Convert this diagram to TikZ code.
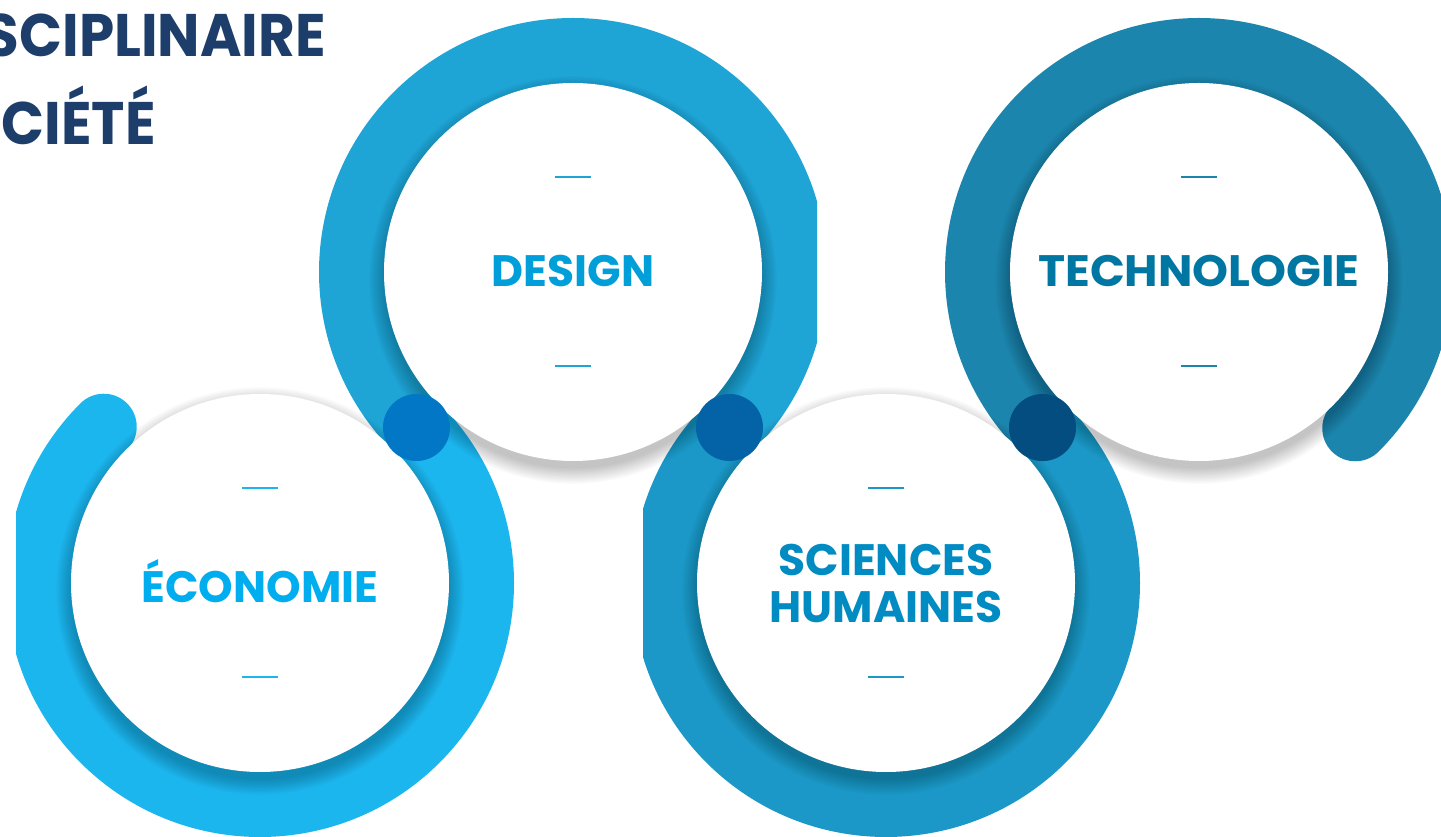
\documentclass[tikz,border=0pt]{standalone}
\usepackage{fontspec}
\newfontfamily\labelfont{Poppins}
\usetikzlibrary{calc}

\definecolor{ecoRing}{HTML}{1CB6EE}
\definecolor{desRing}{HTML}{1EA5D6}
\definecolor{sciRing}{HTML}{1B98C7}
\definecolor{tecRing}{HTML}{1C85AD}
\definecolor{ecoText}{HTML}{00ADEE}
\definecolor{desText}{HTML}{009FDA}
\definecolor{sciText}{HTML}{008CC3}
\definecolor{tecText}{HTML}{0077A2}
\definecolor{jointA}{HTML}{0277C6}
\definecolor{jointB}{HTML}{0363A6}
\definecolor{jointC}{HTML}{044D80}
\definecolor{titleBlue}{HTML}{1D3D6B}

\begin{document}
\begin{tikzpicture}[x=1pt,y=1pt,
    disc/.style={circle,fill=white,minimum size=378pt,inner sep=0pt,align=center,
      font=\labelfont\bfseries\fontsize{44}{47}\selectfont},
    ring/.style={line width=66pt},
    joint/.style={circle,minimum size=67pt,inner sep=0pt},
    tick/.style={line width=2pt},
    title/.style={inner sep=0pt,text=titleBlue,
      font=\labelfont\bfseries\fontsize{60}{60}\selectfont}]
  \useasboundingbox (0,0) rectangle (1441,836);
  \fill[white] (0,0) rectangle (1441,836);

  % centres of the four circles
  \coordinate (eco) at (260,253);
  \coordinate (des) at (573,564);
  \coordinate (sci) at (886,253);
  \coordinate (tec) at (1199,564);

  % rings
  \begin{scope}
    \clip (16,0) rectangle (1441,836);
    \draw[ring,ecoRing,line cap=round] ($(eco)+(135:221)$) arc[start angle=135,end angle=405,radius=221pt];
  \end{scope}
  \begin{scope}
    \clip (0,0) rectangle (817,836);
    \draw[ring,desRing] ($(des)+(225:221)$) arc[start angle=225,end angle=-45,radius=221pt];
  \end{scope}
  \begin{scope}
    \clip (643,0) rectangle (1441,836);
    \draw[ring,sciRing] ($(sci)+(135:221)$) arc[start angle=135,end angle=405,radius=221pt];
  \end{scope}
  \draw[ring,tecRing,line cap=round] ($(tec)+(225:221)$) arc[start angle=225,end angle=-45,radius=221pt];

  % soft shadows under the discs
  \foreach \c in {eco,des,sci,tec}
    \foreach \k in {1,...,12}
      \fill[black,opacity=0.02] ([yshift=-8pt]\c) circle[radius={187pt+\k*1.4pt}];

  % discs
  \node[disc,text=ecoText] (eco disc) at (eco) {\raisebox{3pt}{ÉCONOMIE}};
  \node[disc,text=desText] (des disc) at (des) {\raisebox{2pt}{DESIGN}};
  \node[disc,text=sciText] (sci disc) at (sci) {SCIENCES\\HUMAINES};
  \node[disc,text=tecText] (tec disc) at (tec) {\raisebox{2pt}{\scalebox{1.04}[1]{TECHNOLOGIE}}};

  % ticks above and below the labels
  \foreach \c/\col in {eco/ecoRing,des/desRing,sci/sciRing,tec/tecRing}{
    \draw[tick,\col] ([shift={(-18,95)}]\c) -- ++(36,0);
    \draw[tick,\col] ([shift={(-18,-94)}]\c) -- ++(36,0);
  }

  % joints between the rings
  \node[joint,fill=jointA] (j1) at ($(eco)!0.5!(des)$) {};
  \node[joint,fill=jointB] (j2) at ($(des)!0.5!(sci)$) {};
  \node[joint,fill=jointC] (j3) at ($(sci)!0.5!(tec)$) {};

  % title, cut by the page edge
  \node[title,anchor=base east] (line1) at (326,779) {\scalebox{0.94}[1]{SCIPLINAIRE}};
  \node[title,anchor=base east] (line2) at (156,691) {\scalebox{0.94}[1]{CIÉTÉ}};
\end{tikzpicture}
\end{document}
